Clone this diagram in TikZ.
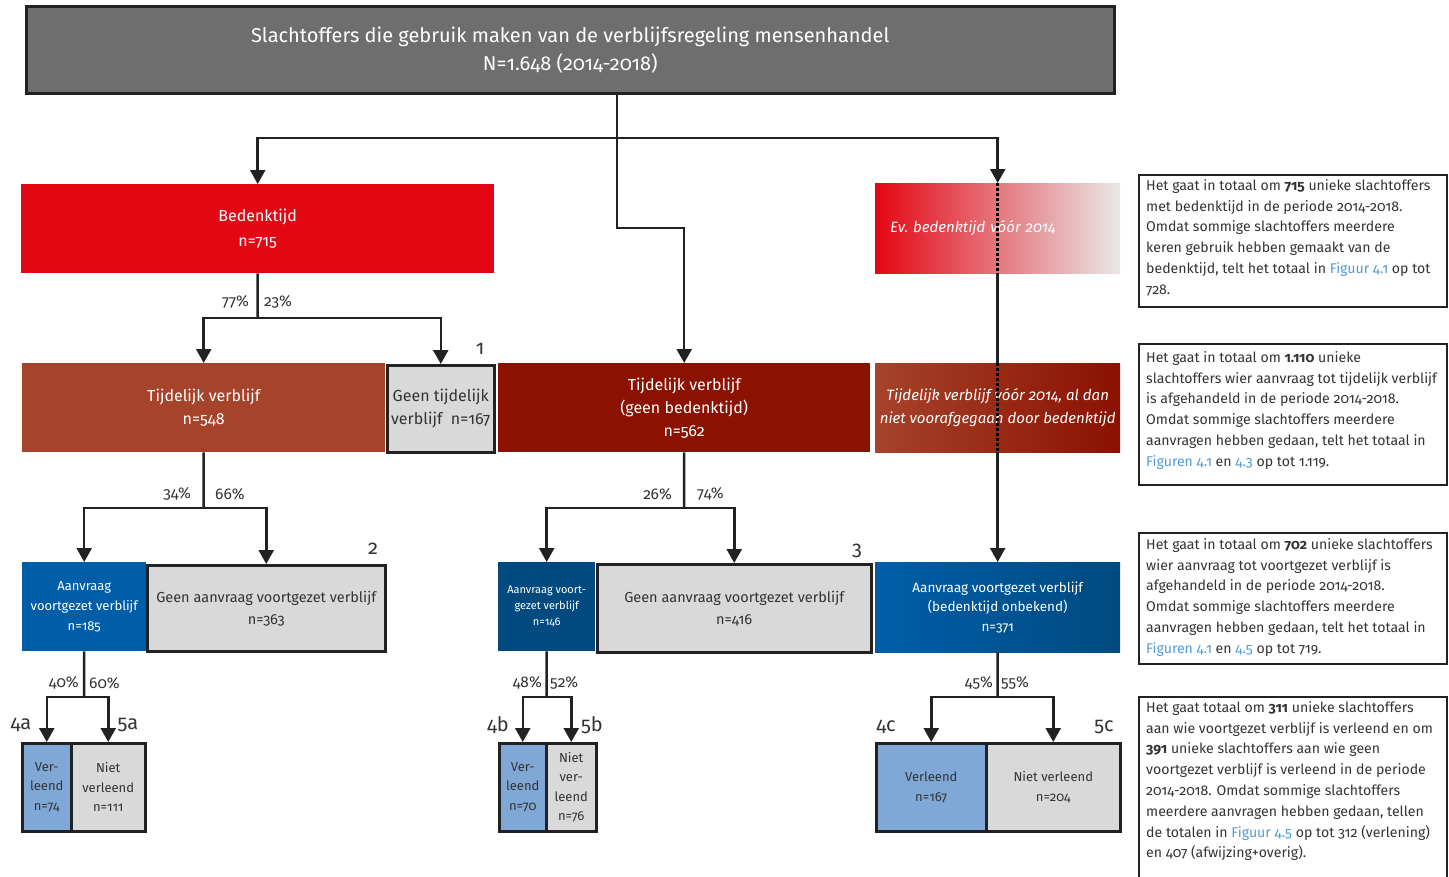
\documentclass[tikz,border=0pt]{standalone}
\usepackage{fontspec}
\setmainfont{Fira Sans}[Numbers=OldStyle]
\usetikzlibrary{arrows.meta}
\definecolor{topgray}{HTML}{6E6E6E}
\definecolor{rvred}{HTML}{E30613}
\definecolor{brownred}{HTML}{A5432B}
\definecolor{darkred}{HTML}{8B1100}
\definecolor{blueA}{HTML}{005EA8}
\definecolor{blueB}{HTML}{004A80}
\definecolor{lightblue}{HTML}{7FA8D6}
\definecolor{boxgray}{HTML}{D9D9D9}
\definecolor{evgray}{HTML}{E8E8E8}
\definecolor{linec}{HTML}{222222}
\definecolor{txt}{HTML}{333333}
\definecolor{link}{HTML}{4F9BD8}
\newcommand\fsz[2]{\fontsize{#1}{#2}\selectfont}
\newcommand\lnk[1]{\textcolor{link}{#1}}
\tikzset{
  box/.style={anchor=north west, inner sep=0pt, align=center, text=white},
  graybox/.style={box, fill=boxgray, draw=linec, line width=2.5pt, text=txt},
  bluebox/.style={box, fill=lightblue, draw=linec, line width=2.5pt, text=txt},
  conn/.style={line width=2.5pt, draw=linec},
  arr/.style={conn, -{Triangle[width=15pt,length=14pt]}},
  dotline/.style={line width=2.5pt, draw=black, dash pattern=on 2.5pt off 2.5pt},
  pct/.style={inner sep=0pt, text=txt, font=\fsz{15.5}{17}},
  num/.style={inner sep=0pt, text=txt, font=\fsz{20}{21}},
  notetext/.style={anchor=north west, inner sep=0pt, align=left, text=txt, font=\fsz{14.1}{20.8}},
  noteframe/.style={draw=linec, line width=1.5pt}
}
\begin{document}
\begin{tikzpicture}[x=1pt,y=-1pt]
\useasboundingbox (0,0) rectangle (1449,876);
% top
\node[box, fill=topgray, draw=linec, line width=2.5pt, minimum width=1088pt, minimum height=87pt, font=\fsz{20}{28}] (top) at (25,5) {Slachtoffers die gebruik maken van de verblijfsregeling mensenhandel\\N=1.648 (2014-2018)};
% level 1
\node[box, fill=rvred, minimum width=473pt, minimum height=89pt, font=\fsz{16}{25}] (bed) at (21,184) {Bedenktijd\\n=715};
\node[box, left color=rvred, right color=evgray, minimum width=245pt, minimum height=90pt, inner xsep=15pt, text width=215pt, align=left, font=\itshape\fsz{15}{20}] (ev) at (875,183) {Ev.\ bedenktijd vóór 2014};
% level 2
\node[box, fill=brownred, minimum width=363pt, minimum height=89pt, font=\fsz{16}{23}] (tv) at (22,363) {Tijdelijk verblijf\\n=548};
\node[graybox, minimum width=107pt, minimum height=87pt, font=\fsz{16}{23}] (gtv) at (386,364) {Geen tijdelijk\\verblijf~ n=167};
\node[box, fill=darkred, minimum width=372pt, minimum height=89pt, font=\fsz{16}{23}] (tvm) at (498,363) {Tijdelijk verblijf\\(geen bedenktijd)\\n=562};
\node[box, left color=brownred, right color=darkred, minimum width=245pt, minimum height=89pt, font=\itshape\fsz{15}{23}] (tvr) at (875,363) {Tijdelijk verblijf vóór 2014, al dan\\niet voorafgegaan door bedenktijd};
% level 3
\node[box, fill=blueA, minimum width=124pt, minimum height=89pt, font=\fsz{13}{20}] (avL) at (22,562) {Aanvraag\\voortgezet verblijf\\n=185};
\node[graybox, minimum width=238pt, minimum height=86pt, font=\fsz{14.5}{22}] (gaL) at (146,564) {Geen aanvraag voortgezet verblijf\\n=363};
\node[box, fill=blueB, minimum width=97pt, minimum height=89pt, font=\fsz{11}{16}] (avM) at (498,562) {Aanvraag voort-\\gezet verblijf\\n=146};
\node[graybox, minimum width=274pt, minimum height=88pt, font=\fsz{14.5}{22}] (gaM) at (596,563) {Geen aanvraag voortgezet verblijf\\n=416};
\node[box, left color=blueA, right color=blueB, minimum width=245pt, minimum height=90pt, font=\fsz{13.5}{19.5}] (avR) at (875,562) {Aanvraag voortgezet verblijf\\(bedenktijd onbekend)\\n=371};
% level 4
\node[bluebox, minimum width=49pt, minimum height=88pt, font=\fsz{13}{19.5}] (verL) at (21,742) {Ver-\\leend\\n=74};
\node[graybox, minimum width=74pt, minimum height=88pt, font=\fsz{13}{19.5}] (nvL) at (70,742) {Niet\\verleend\\n=111};
\node[bluebox, minimum width=47pt, minimum height=88pt, font=\fsz{13}{19.5}] (verM) at (498,742) {Ver-\\leend\\n=70};
\node[graybox, minimum width=50pt, minimum height=88pt, font=\fsz{13}{19.5}] (nvM) at (545,742) {Niet\\ver-\\leend\\n=76};
\node[bluebox, minimum width=110pt, minimum height=88pt, font=\fsz{13}{19.5}] (verR) at (875,742) {Verleend\\n=167};
\node[graybox, minimum width=134pt, minimum height=88pt, font=\fsz{13}{19.5}] (nvR) at (985,742) {Niet verleend\\n=204};
% junctions
\coordinate (j1) at (617,138);
\coordinate (m1) at (617,228);
\coordinate (j2) at (257.5,318);
\coordinate (j3) at (203.5,508);
\coordinate (j4) at (84,697);
\coordinate (j5) at (684,508);
\coordinate (j6) at (546.5,697);
\coordinate (j7) at (997.5,697);
% connectors
\draw[arr] (top.south -| j1) -- (m1) -| (tvm.north);
\draw[arr] (j1) -| (bed.north);
\draw[arr] (j1) -| (ev.north);
\draw[conn] (bed.south) -- (j2);
\draw[arr] (j2) -| (tv.north);
\draw[arr] (j2) -| (gtv.north);
\draw[conn] (tv.south) -- (j3);
\draw[arr] (j3) -| (avL.north);
\draw[arr] (j3) -| (gaL.north);
\draw[conn] (avL.south) -- (j4);
\draw[arr] (j4) -| (verL.north);
\draw[arr] (j4) -| (nvL.north);
\draw[conn] (tvm.south) -- (j5);
\draw[arr] (j5) -| (avM.north);
\draw[arr] (j5) -| (gaM.north);
\draw[conn] (avM.south) -- (j6);
\draw[arr] (j6) -| (verM.north);
\draw[arr] (j6) -| (nvM.north);
\draw[dotline] (ev.north) -- (ev.south);
\draw[conn] (ev.south) -- (tvr.north);
\draw[dotline] (tvr.north) -- (tvr.south);
\draw[arr] (tvr.south) -- (avR.north);
\draw[conn] (avR.south) -- (j7);
\draw[arr] (j7) -| (verR.north);
\draw[arr] (j7) -| (nvR.north);
% percentages
\node[pct, anchor=east] (p1) at (249,302) {77\%};
\node[pct, anchor=west] (p2) at (264,302) {23\%};
\node[pct, anchor=east] (p3) at (191,494) {34\%};
\node[pct, anchor=west] (p4) at (215,494) {66\%};
\node[pct, anchor=east] (p5) at (79,683) {40\%};
\node[pct, anchor=west] (p6) at (89,683) {60\%};
\node[pct, anchor=east] (p7) at (672,494) {26\%};
\node[pct, anchor=west] (p8) at (697,494) {74\%};
\node[pct, anchor=east] (p9) at (542,683) {48\%};
\node[pct, anchor=west] (p10) at (550,683) {52\%};
\node[pct, anchor=east] (p11) at (993,683) {45\%};
\node[pct, anchor=west] (p12) at (1001,683) {55\%};
% numbers
\node[num] (l1) at (480,349) {1};
\node[num] (l2) at (373,549) {2};
\node[num] (l3) at (857,551) {3};
\node[num] (l4a) at (21,725) {4a};
\node[num] (l5a) at (128,725) {5a};
\node[num] (l4b) at (498,725) {4b};
\node[num] (l5b) at (592,725) {5b};
\node[num] (l4c) at (886,727) {4c};
\node[num] (l5c) at (1104,727) {5c};
% notes
\draw[noteframe] (1139,175) rectangle (1447,307);
\node[notetext] (t1) at (1146,179) {Het gaat in totaal om \textbf{715} unieke slachtoffers\\met bedenktijd in de periode 2014-2018.\\Omdat sommige slachtoffers meerdere\\keren gebruik hebben gemaakt van de\\bedenktijd, telt het totaal in \lnk{Figuur 4.1} op tot\\728.};
\draw[noteframe] (1139,344) rectangle (1447,485);
\node[notetext] (t2) at (1146,351) {Het gaat in totaal om \textbf{1.110} unieke\\slachtoffers wier aanvraag tot tijdelijk verblijf\\is afgehandeld in de periode 2014-2018.\\Omdat sommige slachtoffers meerdere\\aanvragen hebben gedaan, telt het totaal in\\\lnk{Figuren 4.1} en \lnk{4.3} op tot 1.119.};
\draw[noteframe] (1139,533) rectangle (1447,664);
\node[notetext] (t3) at (1146,538) {Het gaat in totaal om \textbf{702} unieke slachtoffers\\wier aanvraag tot voortgezet verblijf is\\afgehandeld in de periode 2014-2018.\\Omdat sommige slachtoffers meerdere\\aanvragen hebben gedaan, telt het totaal in\\\lnk{Figuren 4.1} en \lnk{4.5} op tot 719.};
\draw[noteframe] (1139,697) rectangle (1447,890);
\node[notetext] (t4) at (1146,701) {Het gaat totaal om \textbf{311} unieke slachtoffers\\aan wie voortgezet verblijf is verleend en om\\\textbf{391} unieke slachtoffers aan wie geen\\voortgezet verblijf is verleend in de periode\\2014-2018. Omdat sommige slachtoffers\\meerdere aanvragen hebben gedaan, tellen\\de totalen in \lnk{Figuur 4.5} op tot 312 (verlening)\\en 407 (afwijzing+overig).};
\end{tikzpicture}
\end{document}
